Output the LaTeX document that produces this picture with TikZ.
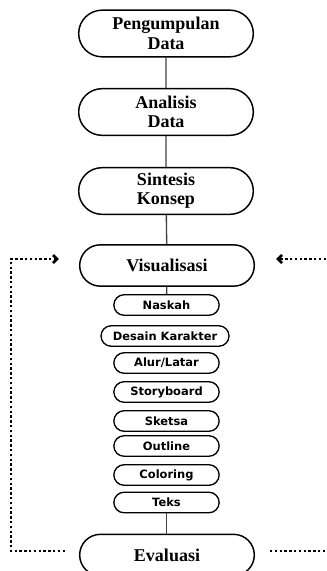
\documentclass[tikz,border=0pt]{standalone}
\usepackage{fontspec}
\setmainfont{Liberation Serif}
\setsansfont{DejaVu Sans}
\usetikzlibrary{shapes.misc,arrows.meta}

\begin{document}
\begin{tikzpicture}[x=0.75pt,y=-0.75pt,
    bigbox/.style={draw, line width=1.1pt, rounded rectangle, minimum width=131pt,
      minimum height=35pt, inner sep=0pt, align=center,
      font=\bfseries\fontsize{13.5}{14.5}\selectfont},
    smallbox/.style={draw, line width=1pt, rounded rectangle, minimum width=79pt,
      minimum height=15.4pt, inner sep=0pt,
      font=\sffamily\bfseries\fontsize{8.6}{9}\selectfont},
    link/.style={draw=black!75, line width=1pt},
    loopline/.style={line width=2pt, dash pattern=on 1.8pt off 1.8pt},
    tip/.style={line width=1.9pt}]
  \useasboundingbox (0,0) rectangle (326,571);

  % main steps
  \node[bigbox] (kumpul) at (166,33.5) {Pengumpulan\\Data};
  \node[bigbox] (analisis) at (166,112) {Analisis\\Data};
  \node[bigbox] (sintesis) at (166,191) {Sintesis\\Konsep};
  \node[bigbox, minimum height=31pt] (visual) at (167,265.5) {Visualisasi};
  \node[bigbox, minimum height=31pt] (evaluasi) at (167,555) {Evaluasi};

  % sub steps of visualisasi
  \node[smallbox] (naskah) at (166.5,305) {Naskah};
  \node[smallbox, minimum width=96pt] (desain) at (165,336) {Desain Karakter};
  \node[smallbox] (alur) at (166.5,363) {Alur/Latar};
  \node[smallbox] (story) at (166.5,392) {Storyboard};
  \node[smallbox] (sketsa) at (166.5,421) {Sketsa};
  \node[smallbox] (outline) at (166.5,446) {Outline};
  \node[smallbox] (coloring) at (166.5,475) {Coloring};
  \node[smallbox] (teks) at (166.5,502.5) {Teks};

  \draw[link] (kumpul) -- (analisis);
  \draw[link] (analisis) -- (sintesis);
  \draw[link] (sintesis) -- (visual);
  \draw[link] (visual) -- (naskah);
  \draw[link] (teks.south) -- (teks.south |- evaluasi.north);

  % feedback loop
  \coordinate (kiriBawah) at (65,551);
  \coordinate (sudutBawah) at (11,551);
  \coordinate (sudutAtas) at (11,259);
  \coordinate (panahKiri) at (57,259);
  \coordinate (kananBawah) at (270,551);
  \coordinate (ujungKananBawah) at (326,551);
  \coordinate (ujungKananAtas) at (326,259);
  \coordinate (panahKanan) at (278,259);

  \draw[loopline] (kiriBawah) -- (sudutBawah) -- (sudutAtas) -- (panahKiri);
  \draw[tip] ([xshift=-3pt,yshift=3pt]panahKiri) -- (panahKiri) -- ([xshift=-3pt,yshift=-3pt]panahKiri);
  \draw[loopline] (kananBawah) -- (ujungKananBawah);
  \draw[loopline] (ujungKananAtas) -- (panahKanan);
  \draw[tip] ([xshift=3pt,yshift=3pt]panahKanan) -- (panahKanan) -- ([xshift=3pt,yshift=-3pt]panahKanan);
\end{tikzpicture}
\end{document}
